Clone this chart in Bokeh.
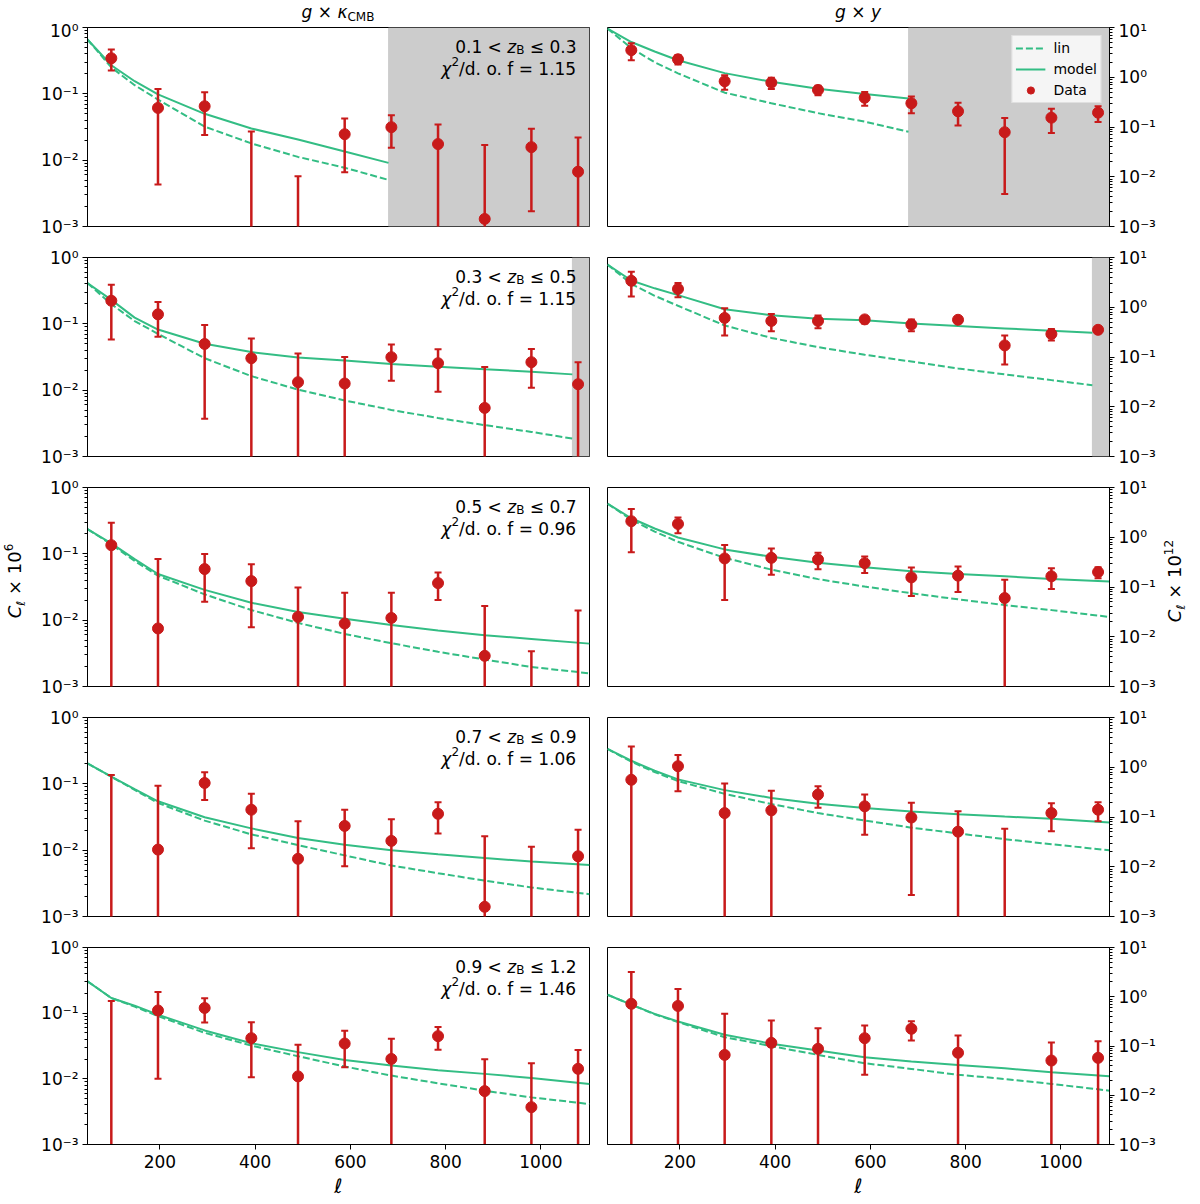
import math

from bokeh.embed import file_html
from bokeh.layouts import column, row
from bokeh.models import (BoxAnnotation, ColumnDataSource, CustomJSTickFormatter, Div,
                          FixedTicker, Label, Legend, LegendItem, Range1d)
from bokeh.plotting import figure
from bokeh.resources import INLINE

# band-power centres (multipole) of the measurements
ELL = [98, 196, 294, 392, 490, 588, 686, 784, 882, 980, 1078]

# tomographic bins and the reduced chi^2 quoted in each left panel
Z_EDGES = ["0.1", "0.3", "0.5", "0.7", "0.9", "1.2"]
CHI2 = ["1.15", "1.15", "0.96", "1.06", "1.46"]

# grey band = scales left out of the fit, starts at this ell (None = no cut)
CUT_ELL = [680, 1066, None, None, None]

LINE_ELL = [
    [48, 98, 147, 196, 294, 392, 490, 588, 680],
    [48, 98, 147, 196, 294, 392, 490, 588, 686, 784, 882, 980, 1066],
    [48, 98, 147, 196, 294, 392, 490, 588, 686, 784, 882, 980, 1102],
    [48, 98, 147, 196, 294, 392, 490, 588, 686, 784, 882, 980, 1102],
    [48, 98, 147, 196, 294, 392, 490, 588, 686, 784, 882, 980, 1102],
]

# g x kappa_CMB, C_ell x 1e6
KAP_DATA = [
    [0.344, 0.0613, 0.065, -0.002, -0.008, 0.0246, 0.0314, 0.0175, 0.0013, 0.0157, 0.0067],
    [0.223, 0.139, 0.0497, 0.0303, 0.0132, 0.0126, 0.0314, 0.0255, 0.0054, 0.0264, 0.0123],
    [0.135, 0.0075, 0.059, 0.0388, 0.0112, 0.0089, 0.0108, 0.0362, 0.0029, -0.010, -0.001],
    [-0.020, 0.0102, 0.103, 0.0407, 0.0074, 0.0232, 0.0138, 0.0353, 0.0014, -0.003, 0.0081],
    [-0.010, 0.110, 0.120, 0.0416, 0.0109, 0.0345, 0.0201, 0.0447, 0.0065, 0.0037, 0.0142],
]
KAP_ERR = [
    [0.120, 0.057, 0.041, 0.029, 0.0137, 0.018, 0.016, 0.017, 0.0156, 0.014, 0.0153],
    [0.165, 0.075, 0.046, 0.030, 0.0225, 0.019, 0.0175, 0.016, 0.017, 0.0155, 0.014],
    [0.160, 0.076, 0.040, 0.031, 0.020, 0.017, 0.015, 0.016, 0.0134, 0.0134, 0.015],
    [0.156, 0.083, 0.046, 0.030, 0.020, 0.0175, 0.0155, 0.0175, 0.0148, 0.0143, 0.0123],
    [0.163, 0.100, 0.048, 0.031, 0.022, 0.0195, 0.0206, 0.017, 0.0133, 0.0136, 0.0134],
]
KAP_MODEL = [
    [0.66, 0.27, 0.155, 0.098, 0.05, 0.030, 0.0205, 0.0135, 0.0091],
    [0.41, 0.23, 0.124, 0.082, 0.05, 0.0375, 0.031, 0.0279, 0.0248, 0.0226, 0.0206, 0.019, 0.0173],
    [0.236, 0.144, 0.083, 0.0497, 0.0286, 0.0183, 0.0133, 0.0105, 0.00846, 0.007, 0.00594, 0.00522, 0.00443],
    [0.203, 0.128, 0.083, 0.0546, 0.0314, 0.0213, 0.0153, 0.0121, 0.00995, 0.00865, 0.0076, 0.00676, 0.006],
    [0.306, 0.17, 0.13, 0.0946, 0.0546, 0.0349, 0.0255, 0.0194, 0.0159, 0.0135, 0.0119, 0.0103, 0.00835],
]
KAP_LIN = [
    [0.66, 0.25, 0.135, 0.082, 0.032, 0.0179, 0.0112, 0.0077, 0.00504],
    [0.41, 0.198, 0.11, 0.0706, 0.0303, 0.0163, 0.0102, 0.007, 0.00504, 0.0038, 0.00297, 0.00235, 0.00186],
    [0.236, 0.139, 0.078, 0.0468, 0.0245, 0.0142, 0.0091, 0.0062, 0.00449, 0.00334, 0.00255, 0.00197, 0.00158],
    [0.203, 0.128, 0.081, 0.0514, 0.0279, 0.0173, 0.0119, 0.00835, 0.00587, 0.00449, 0.00347, 0.00274, 0.00217],
    [0.306, 0.17, 0.126, 0.0903, 0.0502, 0.0321, 0.0221, 0.0154, 0.0112, 0.00855, 0.0066, 0.00522, 0.00413],
]

# g x y (tSZ), C_ell x 1e12
TSZ_DATA = [
    [3.5, 2.3, 0.83, 0.78, 0.555, 0.387, 0.30, 0.207, 0.0785, 0.154, 0.194],
    [3.4, 2.33, 0.61, 0.53, 0.53, 0.57, 0.45, 0.56, 0.171, 0.29, 0.352],
    [2.1, 1.85, 0.375, 0.386, 0.357, 0.301, 0.156, 0.169, 0.060, 0.164, 0.200],
    [0.56, 1.05, 0.120, 0.136, 0.283, 0.164, 0.0977, 0.0507, -0.010, 0.120, 0.140],
    [0.72, 0.65, 0.066, 0.116, 0.0875, 0.144, 0.224, 0.0727, -0.100, 0.0507, 0.0574],
]
TSZ_ERR = [
    [1.3, 0.5, 0.27, 0.2, 0.12, 0.12, 0.11, 0.10, 0.074, 0.078, 0.068],
    [1.75, 0.75, 0.34, 0.2, 0.15, 0.10, 0.12, 0.05, 0.10, 0.075, 0.04],
    [1.6, 0.65, 0.32, 0.21, 0.13, 0.11, 0.09, 0.09, 0.08, 0.073, 0.05],
    [2.05, 0.72, 0.35, 0.2, 0.13, 0.12, 0.095, 0.08, 0.068, 0.068, 0.058],
    [2.47, 0.79, 0.386, 0.215, 0.143, 0.118, 0.095, 0.09, 0.09, 0.067, 0.068],
]
TSZ_MODEL = [
    [9.5, 5.1, 3.3, 2.2, 1.21, 0.81, 0.59, 0.46, 0.375],
    [7.2, 3.45, 2.4, 1.75, 0.91, 0.69, 0.59, 0.546, 0.474, 0.418, 0.375, 0.336, 0.306],
    [4.72, 2.41, 1.5, 0.99, 0.57, 0.405, 0.306, 0.25, 0.207, 0.182, 0.164, 0.144, 0.129],
    [2.33, 1.35, 0.85, 0.57, 0.347, 0.242, 0.185, 0.151, 0.129, 0.114, 0.102, 0.0918, 0.0773],
    [1.1, 0.69, 0.45, 0.315, 0.169, 0.111, 0.081, 0.0593, 0.0483, 0.0413, 0.0353, 0.0293, 0.0243],
]
TSZ_LIN = [
    [9.5, 3.85, 2.0, 1.2, 0.49, 0.3, 0.19, 0.128, 0.08],
    [7.2, 2.95, 1.7, 1.07, 0.43, 0.242, 0.158, 0.111, 0.081, 0.059, 0.0447, 0.0343, 0.0271],
    [4.72, 2.26, 1.3, 0.81, 0.386, 0.224, 0.144, 0.102, 0.0748, 0.0565, 0.0433, 0.0343, 0.025],
    [2.33, 1.29, 0.8, 0.528, 0.292, 0.182, 0.12, 0.0849, 0.061, 0.0468, 0.0359, 0.0284, 0.0214],
    [1.1, 0.69, 0.44, 0.306, 0.151, 0.0993, 0.066, 0.0447, 0.0343, 0.026, 0.0214, 0.017, 0.0124],
]

GREEN = "#33bd84"
RED = "#c81a1a"
FONT = "DejaVu Sans"
X_LO, X_HI = 48, 1102
FLOOR = 1e-6
FRAME_W, FRAME_H = 502, 199
BORDERS = [(59, 8), (10, 51)]          # (left, right) border of each column
TOPS = [7, 16, 16, 16, 16]
BOTTOMS = [15, 15, 15, 15, 54]
TITLE_H = 20
STRIP_W = [28, 24]
TOTAL_H = TITLE_H + sum(TOPS) + 5 * FRAME_H + sum(BOTTOMS)

# rough DejaVu Sans advance widths (em) to lay out the mixed-style labels
CHAR_W = {" ": 0.318, ".": 0.318, "<": 0.838, "≤": 0.838, "=": 0.838, "×": 0.838,
          "/": 0.337, "d": 0.635, "o": 0.612, "f": 0.352, "B": 0.686, "z": 0.525, "χ": 0.6}


def text_w(text, size):
    return sum(CHAR_W.get(c, 0.636) for c in text) * size


def rich_label(p, x, y, pieces, dx, dy):
    # right-aligned run of differently styled pieces, placed inside the frame
    total = sum(text_w(t, s) for t, s, _, _ in pieces)
    pos = -total
    for text, size, style, shift in pieces:
        lead = text_w(text[:len(text) - len(text.lstrip())], size)
        p.add_layout(Label(x=x, y=y, text=text.strip(), text_font=FONT,
                           text_font_size=f"{size}px", text_font_style=style,
                           text_align="left", text_baseline="alphabetic",
                           text_color="black", x_offset=dx + pos + lead, y_offset=dy + shift))
        pos += text_w(text, size)


def log_axis(ax, ticks):
    minor = [m * t for t in ticks[:-1] for m in range(2, 10)]
    ax.ticker = FixedTicker(ticks=ticks, minor_ticks=minor)
    ax.formatter = CustomJSTickFormatter(code="""
        const sup = {"-": "\u207b", "0": "\u2070", "1": "\u00b9", "2": "\u00b2", "3": "\u00b3"};
        const e = Math.round(Math.log10(tick));
        return "10" + String(e).split("").map((c) => sup[c]).join("");
    """)


def errorbars(p, ys, errs):
    bx, blo, bhi, cx, cy, mx, my = [], [], [], [], [], [], []
    for l, y, e in zip(ELL, ys, errs):
        top = y + e
        if top <= 0:
            continue
        bot = max(y - e, FLOOR)
        bx.append(l)
        blo.append(bot)
        bhi.append(top)
        cx += [l, l]
        cy += [top, bot]
        if y > 0:
            mx.append(l)
            my.append(y)
    p.segment(x0="x", y0="lo", x1="x", y1="hi", line_color=RED, line_width=2.5,
              source=ColumnDataSource(dict(x=bx, lo=blo, hi=bhi)))
    p.scatter(cx, cy, marker="dash", size=7, line_color=RED, line_width=2)
    return p.scatter(mx, my, marker="circle", size=11, fill_color=RED, line_color=RED)


def panel(i, col):
    last = i == 4
    ymax = 1.0 if col == 0 else 10.0
    b_left, b_right = BORDERS[col]
    p = figure(width=b_left + FRAME_W + b_right, height=TOPS[i] + FRAME_H + BOTTOMS[i],
               x_range=Range1d(X_LO, X_HI), y_range=Range1d(1e-3, ymax),
               y_axis_type="log", y_axis_location="left" if col == 0 else "right",
               min_border_left=b_left, min_border_right=b_right,
               min_border_top=TOPS[i], min_border_bottom=BOTTOMS[i],
               output_backend="svg", toolbar_location=None)
    p.title.visible = False
    p.xgrid.visible = False
    p.ygrid.visible = False
    p.outline_line_color = "black"
    p.outline_line_alpha = 1
    if i == 0:
        p.border_fill_alpha = 0

    ay = p.yaxis[0]
    log_axis(ay, [1e-3, 1e-2, 1e-1, 1.0] if col == 0 else [1e-3, 1e-2, 1e-1, 1.0, 10.0])
    ay.major_label_text_font = FONT
    ay.major_label_text_font_size = "17px"
    ay.major_label_text_color = "black"
    ay.major_label_standoff = 4
    ay.major_tick_out, ay.major_tick_in = 5, 0
    ay.minor_tick_out, ay.minor_tick_in = 3, 0
    ay.axis_line_color = "black"

    ax = p.xaxis[0]
    if last:
        ax.ticker = FixedTicker(ticks=[200, 400, 600, 800, 1000], minor_ticks=[])
        ax.major_label_text_font = FONT
        ax.major_label_text_font_size = "17px"
        ax.major_label_text_color = "black"
        ax.major_label_standoff = 5
        ax.major_tick_out, ax.major_tick_in = 5, 0
        ax.axis_line_color = "black"
        ax.axis_label = "ℓ"
        ax.axis_label_text_font = FONT
        ax.axis_label_text_font_size = "20px"
        ax.axis_label_text_font_style = "italic"
        ax.axis_label_text_color = "black"
        ax.axis_label_standoff = 3
    else:
        ax.visible = False

    if CUT_ELL[i] is not None:
        p.add_layout(BoxAnnotation(left=CUT_ELL[i], fill_color="#cccccc", fill_alpha=1,
                                   line_color="#9a9a9a", line_width=1, level="underlay"))

    data, err, model, lin = ((KAP_DATA, KAP_ERR, KAP_MODEL, KAP_LIN) if col == 0
                             else (TSZ_DATA, TSZ_ERR, TSZ_MODEL, TSZ_LIN))
    r_lin = p.line(LINE_ELL[i], lin[i], line_color=GREEN, line_width=2, line_dash="7 3")
    r_mod = p.line(LINE_ELL[i], model[i], line_color=GREEN, line_width=2)
    r_pts = errorbars(p, data[i], err[i])

    if col == 0:
        rich_label(p, X_HI, ymax, [(f"{Z_EDGES[i]} < ", 17, "normal", 0),
                                   ("z", 17, "italic", 0), ("B", 12, "normal", -3),
                                   (f" ≤ {Z_EDGES[i + 1]}", 17, "normal", 0)], -13, -19)
        rich_label(p, X_HI, ymax, [("χ", 17, "italic", 0), ("2", 12, "normal", 7),
                                   (f"/d. o. f = {CHI2[i]}", 17, "normal", 0)], -13, -41)

    if i == 0 and col == 1:
        legend = Legend(items=[LegendItem(label="lin", renderers=[r_lin]),
                               LegendItem(label="model", renderers=[r_mod]),
                               LegendItem(label="Data", renderers=[r_pts])],
                        location="top_right")
        legend.label_text_font = FONT
        legend.label_text_font_size = "14px"
        legend.label_text_color = "black"
        legend.background_fill_color = "white"
        legend.background_fill_alpha = 0.8
        legend.border_line_color = "#cccccc"
        legend.margin = 8
        legend.padding = 3
        legend.spacing = 3
        legend.label_height = 18
        legend.glyph_height = 18
        legend.glyph_width = 30
        legend.label_standoff = 8
        p.add_layout(legend)
    return p


def title_div(col, html):
    b_left, b_right = BORDERS[col]
    inner = (f'<div style="margin-left:{b_left}px;width:{FRAME_W}px;text-align:center;'
             f'padding-top:3px;font-family:\'DejaVu Sans\';font-size:17px;line-height:18px;'
             f'color:black;white-space:nowrap">{html}</div>')
    return Div(text=inner, width=b_left + FRAME_W + b_right, height=TITLE_H, margin=0,
               styles={"overflow": "visible"})


def ylabel_div(col, power):
    # rotated axis label, centred on the middle row
    centre_y = TITLE_H + sum(TOPS[:3]) + 2 * FRAME_H + sum(BOTTOMS[:2]) + FRAME_H / 2 - 6
    w = STRIP_W[col]
    left = w / 2 + 2 if col == 0 else w / 2 + 4
    label = ('<i>C</i><span style="font-size:12px;position:relative;top:4px"><i>ℓ</i></span>'
             f' × 10<span style="font-size:12px;position:relative;top:-8px">{power}</span>')
    inner = (f'<div style="position:relative;width:{w}px;height:{TOTAL_H}px">'
             f'<div style="position:absolute;left:{left}px;top:{centre_y}px;'
             'transform:translate(-50%,-50%) rotate(-90deg);white-space:nowrap;'
             'font-family:\'DejaVu Sans\';font-size:18px;line-height:22px;color:black">'
             f'{label}</div></div>')
    return Div(text=inner, width=w, height=TOTAL_H, margin=0, styles={"overflow": "visible"})


titles = row(
    title_div(0, '<i>g</i> × <i>κ</i><span style="font-size:12px;position:relative;top:3px">CMB</span>'),
    title_div(1, '<i>g</i> × <i>y</i>'),
)
grid = column(titles, *[row(panel(i, 0), panel(i, 1)) for i in range(5)])
layout = row(ylabel_div(0, "6"), grid, ylabel_div(1, "12"))

open("out.html", "w").write(file_html(layout, INLINE))
